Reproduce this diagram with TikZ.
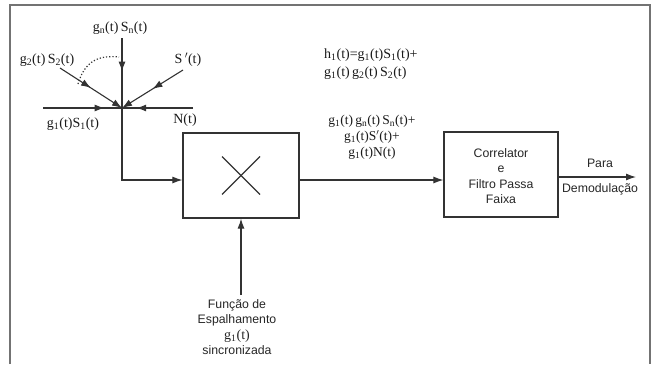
\documentclass[tikz,border=0pt]{standalone}
\usepackage{fontspec}
\setmainfont{Liberation Serif}
\setsansfont{Liberation Sans}
\usetikzlibrary{arrows.meta,decorations.markings}
\newcommand\sbs[1]{\textsubscript{#1}}
\begin{document}
\begin{tikzpicture}[x=1pt,y=-1pt,
  ln/.style={line width=1.1pt,draw=black!80},
  tip/.style={-{Latex[length=10pt,width=7pt]}},
  midtip/.style={postaction={decorate},decoration={markings,
      mark=at position #1 with {\arrow{Latex[length=10pt,width=7pt]}}}},
  lab/.style={font=\fontsize{14}{16}\selectfont,inner sep=0pt,text=black!90},
  sans/.style={font=\sffamily\fontsize{12.3}{15.5}\selectfont,inner sep=0pt,align=center,text=black!85},
  blk/.style={draw=black!80,line width=1.2pt,inner sep=0pt}]
\useasboundingbox (0,0) rectangle (652,364);
% frame
\draw[line width=1.4pt,black!55] (10,364) -- (10,5) -- (650,5) -- (650,364);
% summing junction
\coordinate (J) at (122,108);
\coordinate (gn) at (122,38);
\coordinate (g2) at (60,68);
\coordinate (sp) at (183,70);
\coordinate (g1) at (43,108);
\coordinate (nn) at (193,108);
\draw[ln,midtip=0.48] (gn) -- (J);
\draw[ln,tip,midtip=0.5] (g2) -- (J);
\draw[ln,tip,midtip=0.5] (sp) -- (J);
\draw[ln,midtip=0.78] (g1) -- (J);
\draw[ln,midtip=0.80] (nn) -- (J);
\draw[line width=1.2pt,black!80,dotted] (78,84) .. controls (85,60) and (100,55) .. (119,57);
% labels
\node[lab] (lgn) at (120,28) {g\sbs{n}(t)\,S\sbs{n}(t)};
\node[lab] (lg2) at (47,60) {g\sbs{2}(t)\,S\sbs{2}(t)};
\node[lab] (lsp) at (188,60) {S\,$'$(t)};
\node[lab] (lg1) at (73,124) {g\sbs{1}(t)S\sbs{1}(t)};
\node[lab] (lnn) at (185,120) {N(t)};
% multiplier
\node[blk,minimum width=116pt,minimum height=85pt] (mul) at (241,175.5) {};
\draw[ln] (mul.center) ++(-19,-19) -- ++(38,38);
\draw[ln] (mul.center) ++(-19,19) -- ++(38,-38);
\draw[ln,tip] (J) |- (mul.west |- 0,180);
% correlator
\node[blk,minimum width=114pt,minimum height=85pt] (cor) at (501,174.5) {};
\node[sans] (cortxt) at (501,176) {Correlator\\e\\Filtro Passa\\Faixa};
\draw[ln,tip] (mul.east |- 0,180) -- (cor.west |- 0,180);
% output
\coordinate (out) at (636,177);
\draw[ln,tip] (cor.east |- out) -- (out);
\node[sans] (para) at (600,163) {Para};
\node[sans] (demod) at (600,189) {Demodulação};
% spreading function
\node[sans] (spread) at (237,327) {Função de\\Espalhamento\\{\rmfamily\fontsize{14}{15}\selectfont g\sbs{1}(t)}\\sincronizada};
\draw[ln,tip] (spread.north -| mul.south) ++(0,-4) -- (mul.south);
% equations
\node[lab,anchor=west] (h1a) at (324,55) {h\sbs{1}(t)=g\sbs{1}(t)S\sbs{1}(t)+};
\node[lab,anchor=west] (h1b) at (324,73) {g\sbs{1}(t)\,g\sbs{2}(t)\,S\sbs{2}(t)};
\node[lab,align=center,font=\fontsize{13.5}{16}\selectfont] (prod) at (372,137.5) {g\sbs{1}(t)\,g\sbs{n}(t)\,S\sbs{n}(t)+\\g\sbs{1}(t)S$'$(t)+\\g\sbs{1}(t)N(t)};
\end{tikzpicture}
\end{document}
